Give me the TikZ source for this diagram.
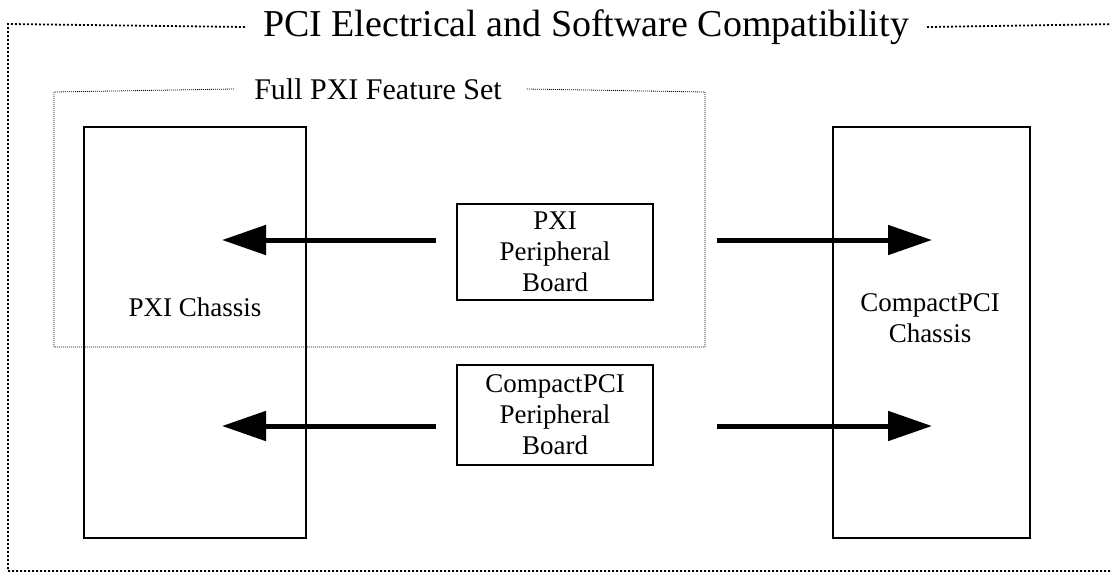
\documentclass[tikz,border=0pt]{standalone}
\usepackage{fontspec}
\setmainfont{Liberation Serif}
\usetikzlibrary{arrows.meta}
\begin{document}
\begin{tikzpicture}[x=1pt,y=-1pt,
  box/.style={draw,line width=1.6pt,inner sep=0pt},
  lbl/.style={font=\fontsize{27}{31}\selectfont,align=center},
  arr/.style={line width=5pt,-{Triangle[length=44pt,width=29pt]}},
  outerdot/.style={line width=1.8pt,dash pattern=on 2pt off 2pt},
  innerdot/.style={line width=0.8pt,dash pattern=on 1pt off 1pt}]
\useasboundingbox (0,0) rectangle (1111,573);
% outer frame
\node[font=\fontsize{38}{41}\selectfont,inner sep=0pt] (title) at (586,27) {PCI Electrical and Software Compatibility};
\draw[outerdot] ([xshift=-18pt]title.west) -- (8,24) -- (8,571) -- (1120,571);
\draw[outerdot] ([xshift=18pt]title.east) -- (1120,24);
% full PXI feature set frame
\node[font=\fontsize{30}{33}\selectfont,inner sep=0pt] (fps) at (378,89) {Full PXI Feature Set};
\draw[innerdot] ([xshift=-20pt]fps.west) -- (54,92) -- (54,347) -- (705,347) -- (705,92) -- ([xshift=24pt]fps.east);
% chassis
\draw[box] (84,127) rectangle (306,538);
\node[lbl] (pxic) at (195,307) {PXI Chassis};
\draw[box] (833,127) rectangle (1030,538);
\node[lbl] (cpcic) at (930,318) {CompactPCI\\Chassis};
\coordinate (pxiL1) at (222,240);
\coordinate (pxiL2) at (222,426);
\coordinate (cpR1) at (932,240);
\coordinate (cpR2) at (932,426);
% boards
\node[box,minimum width=196pt,minimum height=96pt,lbl] (pxib) at (555,252) {PXI\\Peripheral\\Board};
\node[box,minimum width=196pt,minimum height=100pt,lbl] (cpb) at (555,415) {CompactPCI\\Peripheral\\Board};
% arrows
\draw[arr] (436,240) -- (pxiL1);
\draw[arr] (717,240) -- (cpR1);
\draw[arr] (436,426) -- (pxiL2);
\draw[arr] (717,426) -- (cpR2);
\end{tikzpicture}
\end{document}
